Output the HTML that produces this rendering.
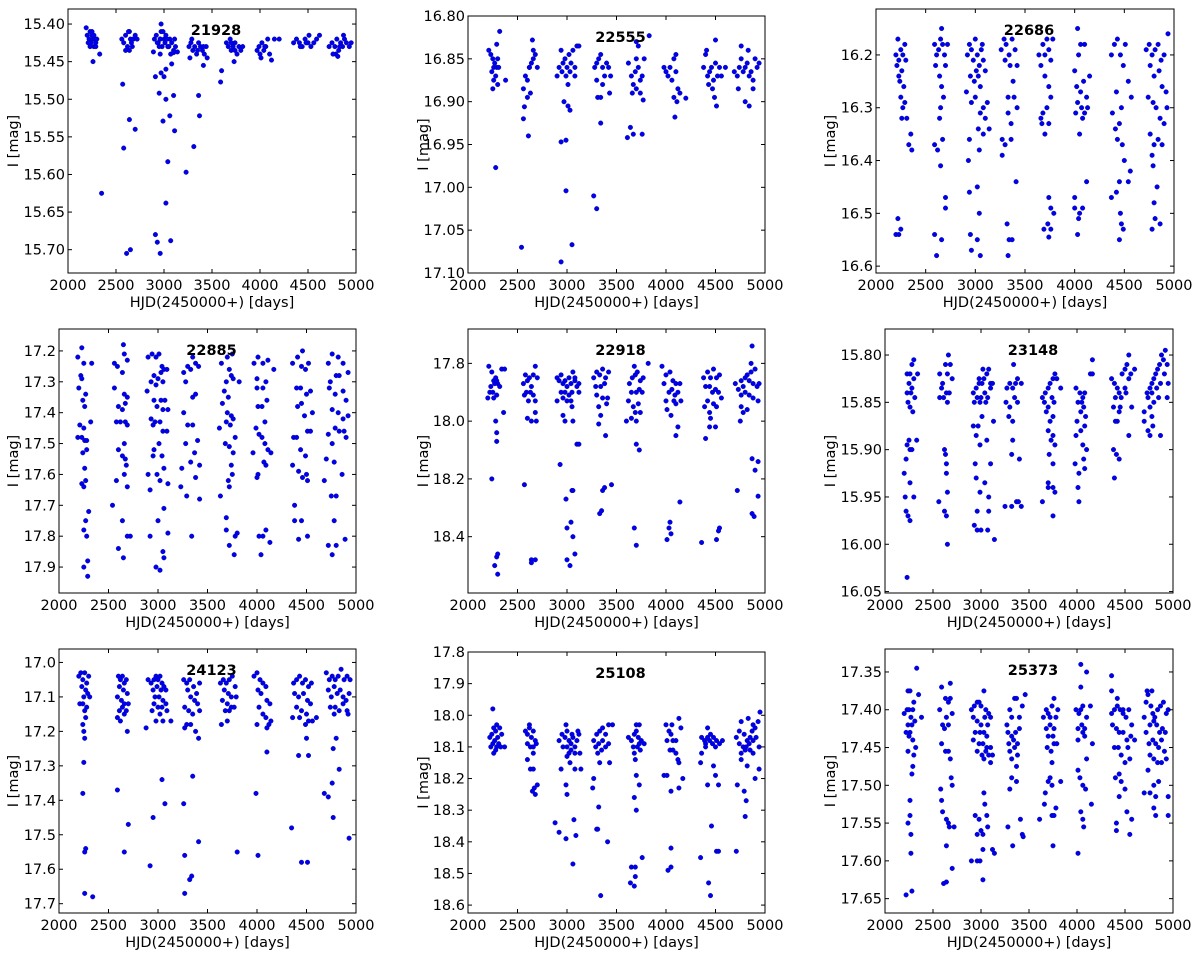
<!DOCTYPE html>
<html>
<head>
<meta charset="utf-8">
<style>
  html, body { margin: 0; padding: 0; background: #ffffff; }
  svg { display: block; }
  text { font-family: "DejaVu Sans", "Liberation Sans", sans-serif; fill: #000; }
</style>
</head>
<body>
<svg id="fig" width="1200" height="957" viewBox="0 0 1200 957" xmlns="http://www.w3.org/2000/svg"></svg>
<script>
// ---- data: [HJD-2450000, I mag] per star ----
const obs21928 = [[2190,15.405],[2200,15.415],[2220,15.42],[2230,15.41],[2240,15.425],[2250,15.415],[2260,15.42],[2270,15.43],[2280,15.42],[2290,15.425],[2300,15.42],[2230,15.43],[2250,15.41],[2270,15.415],[2210,15.425],[2290,15.43],[2260,15.45],[2330,15.44],[2350,15.625],
[2560,15.42],[2580,15.425],[2600,15.415],[2620,15.43],[2640,15.41],[2650,15.42],[2660,15.425],[2680,15.42],[2700,15.415],[2720,15.42],[2600,15.435],[2640,15.435],[2670,15.43],[2630,15.41],[2570,15.48],[2580,15.565],[2640,15.527],[2700,15.54],[2610,15.705],[2650,15.70],
[2900,15.42],[2920,15.415],[2940,15.425],[2960,15.42],[2970,15.41],[2980,15.43],[3000,15.42],[3010,15.425],[3020,15.415],[3040,15.43],[3060,15.42],[3080,15.425],[3100,15.435],[3120,15.43],[2950,15.43],[2990,15.41],[3030,15.42],[3070,15.44],[3110,15.42],[2930,15.425],[2960,15.42],[3050,15.43],[2970,15.40],[2890,15.437],[2960,15.44],[3100,15.438],[3140,15.437],[3080,15.453],[2970,15.465],[3000,15.47],[3020,15.46],[2910,15.47],[2950,15.492],[3020,15.50],[3100,15.495],[2990,15.529],[3060,15.522],[3110,15.542],[3040,15.583],[3020,15.638],[2910,15.68],[2930,15.69],[3070,15.688],[2960,15.705],
[3260,15.43],[3280,15.425],[3300,15.435],[3320,15.43],[3340,15.44],[3360,15.425],[3380,15.43],[3400,15.435],[3420,15.44],[3440,15.43],[3290,15.42],[3350,15.435],[3410,15.43],[3270,15.445],[3450,15.445],[3410,15.455],[3360,15.495],[3370,15.522],[3310,15.563],[3230,15.597],[3600,15.462],[3590,15.477],
[3650,15.425],[3670,15.43],[3690,15.42],[3700,15.435],[3720,15.43],[3740,15.425],[3760,15.44],[3780,15.43],[3800,15.435],[3820,15.43],[3700,15.425],[3740,15.435],[3730,15.45],
[3970,15.435],[3990,15.43],[4000,15.44],[4020,15.425],[4040,15.435],[4060,15.43],[4080,15.42],[4100,15.44],[4150,15.42],[4200,15.42],[4010,15.445],[4050,15.43],[4120,15.448],
[4350,15.425],[4380,15.42],[4410,15.425],[4440,15.43],[4470,15.42],[4500,15.425],[4530,15.43],[4560,15.425],[4590,15.42],[4620,15.415],[4420,15.43],[4480,15.425],[4510,15.415],
[4720,15.43],[4750,15.425],[4780,15.43],[4800,15.42],[4820,15.435],[4840,15.425],[4860,15.43],[4880,15.42],[4900,15.425],[4930,15.43],[4950,15.425],[4790,15.44],[4830,15.43],[4870,15.415],[4760,15.44],[4810,15.443]];

const obs22555 = [[2210,16.84],[2230,16.845],[2250,16.85],[2260,16.86],[2270,16.855],[2280,16.87],[2290,16.86],[2300,16.85],[2240,16.865],[2260,16.875],[2300,16.88],[2250,16.885],[2320,16.818],[2290,16.833],[2380,16.875],[2310,16.86],[2280,16.977],
[2560,16.885],[2580,16.87],[2600,16.875],[2620,16.86],[2640,16.855],[2660,16.85],[2680,16.845],[2650,16.828],[2620,16.86],[2700,16.86],[2660,16.84],[2600,16.895],[2570,16.906],[2560,16.92],[2610,16.94],[2630,16.89],[2540,17.07],
[2900,16.87],[2920,16.86],[2940,16.84],[2960,16.855],[2980,16.85],[3000,16.86],[3020,16.845],[3040,16.855],[3060,16.84],[3080,16.86],[3100,16.835],[3120,16.835],[2990,16.87],[3030,16.865],[2950,16.865],[3010,16.88],[2970,16.9],[3010,16.905],[3030,16.91],[2940,16.947],[2990,16.945],[2990,17.004],[3050,17.067],[2940,17.087],[3080,16.87],
[3280,16.86],[3300,16.855],[3320,16.85],[3340,16.845],[3360,16.86],[3380,16.87],[3400,16.855],[3420,16.86],[3440,16.87],[3300,16.875],[3360,16.88],[3310,16.895],[3340,16.895],[3430,16.89],[3340,16.925],[3270,17.01],[3300,17.025],
[3620,16.855],[3650,16.87],[3670,16.88],[3690,16.865],[3700,16.85],[3720,16.86],[3740,16.875],[3760,16.87],[3700,16.885],[3740,16.89],[3660,16.89],[3720,16.835],[3700,16.83],[3770,16.898],[3780,16.85],[3830,16.823],[3640,16.93],[3610,16.942],[3670,16.938],[3760,16.938],
[3980,16.86],[4000,16.865],[4020,16.87],[4040,16.86],[4060,16.875],[4080,16.85],[4100,16.865],[4120,16.885],[4140,16.89],[4080,16.895],[4110,16.9],[4100,16.845],[4200,16.896],[4090,16.918],
[4380,16.86],[4400,16.845],[4420,16.87],[4440,16.865],[4460,16.86],[4480,16.875],[4500,16.855],[4520,16.87],[4540,16.86],[4560,16.87],[4600,16.86],[4430,16.88],[4470,16.885],[4500,16.828],[4490,16.895],[4510,16.905],[4410,16.84],
[4690,16.865],[4720,16.87],[4740,16.86],[4760,16.85],[4780,16.865],[4800,16.86],[4820,16.855],[4840,16.87],[4860,16.865],[4880,16.875],[4900,16.85],[4920,16.86],[4940,16.855],[4760,16.835],[4830,16.84],[4800,16.9],[4840,16.905],[4880,16.885],[4730,16.885]];

const obs22686 = [[2200,16.2],[2210,16.22],[2220,16.17],[2230,16.21],[2240,16.25],[2250,16.19],[2260,16.23],[2270,16.2],[2280,16.26],[2290,16.18],[2230,16.24],[2250,16.28],[2270,16.3],[2290,16.29],[2310,16.32],[2260,16.32],[2300,16.21],[2330,16.37],[2350,16.35],[2360,16.38],[2220,16.51],[2200,16.54],[2230,16.54],[2250,16.53],
[2590,16.18],[2610,16.2],[2630,16.19],[2650,16.17],[2670,16.18],[2690,16.2],[2600,16.22],[2640,16.24],[2660,16.26],[2680,16.28],[2700,16.22],[2720,16.18],[2660,16.15],[2650,16.3],[2640,16.32],[2670,16.36],[2620,16.38],[2590,16.37],[2650,16.41],[2700,16.47],[2700,16.49],[2590,16.54],[2610,16.58],[2660,16.55],
[2920,16.2],[2940,16.18],[2960,16.19],[2980,16.21],[3000,16.17],[3020,16.2],[3040,16.22],[3060,16.19],[3080,16.21],[3100,16.23],[2950,16.24],[2990,16.25],[3010,16.23],[3030,16.24],[3070,16.18],[3050,16.26],[2910,16.27],[2960,16.29],[3000,16.28],[3050,16.31],[3080,16.3],[3100,16.32],[3120,16.29],[3030,16.34],[3080,16.35],[2940,16.36],[3040,16.38],[3140,16.34],[2930,16.40],[2940,16.46],[3020,16.45],[3040,16.5],[2950,16.54],[2960,16.57],[3020,16.55],[3050,16.58],
[3260,16.19],[3290,16.17],[3310,16.18],[3340,16.2],[3370,16.17],[3400,16.19],[3420,16.22],[3350,16.22],[3300,16.21],[3380,16.25],[3330,16.28],[3390,16.28],[3420,16.3],[3330,16.31],[3360,16.33],[3270,16.36],[3300,16.37],[3360,16.36],[3270,16.39],[3410,16.44],[3320,16.52],[3340,16.55],[3330,16.58],[3370,16.55],
[3640,16.2],[3660,16.22],[3680,16.18],[3700,16.2],[3720,16.17],[3740,16.19],[3760,16.21],[3780,16.17],[3700,16.24],[3740,16.26],[3760,16.28],[3720,16.3],[3680,16.31],[3670,16.33],[3700,16.35],[3740,16.33],[3660,16.32],[3740,16.47],[3760,16.49],[3730,16.52],[3760,16.53],[3740,16.545],[3690,16.53],[3790,16.5],
[4030,16.15],[4060,16.18],[4100,16.18],[4040,16.2],[4000,16.23],[4020,16.26],[4060,16.27],[4090,16.25],[4120,16.28],[4150,16.24],[4030,16.29],[4070,16.3],[4010,16.31],[4100,16.31],[4130,16.3],[4080,16.32],[4050,16.35],[4000,16.47],[4000,16.49],[4040,16.51],[4050,16.5],[4080,16.49],[4120,16.44],[4030,16.54],
[4370,16.2],[4400,16.18],[4430,16.17],[4460,16.2],[4490,16.22],[4510,16.18],[4540,16.25],[4570,16.28],[4420,16.27],[4470,16.3],[4380,16.31],[4410,16.34],[4450,16.33],[4430,16.36],[4480,16.37],[4500,16.4],[4560,16.42],[4540,16.44],[4450,16.44],[4420,16.46],[4460,16.5],[4470,16.52],[4450,16.55],[4490,16.53],[4370,16.47],
[4720,16.19],[4750,16.18],[4780,16.2],[4810,16.19],[4840,16.18],[4870,16.21],[4900,16.2],[4940,16.16],[4760,16.22],[4800,16.24],[4850,16.23],[4880,16.26],[4920,16.27],[4740,16.28],[4790,16.29],[4820,16.3],[4860,16.32],[4900,16.33],[4930,16.3],[4760,16.35],[4800,16.37],[4840,16.36],[4880,16.37],[4780,16.39],[4790,16.41],[4830,16.45],[4800,16.48],[4810,16.51],[4780,16.53],[4860,16.52]];

const obs22885 = [[2190,17.22],[2230,17.19],[2250,17.24],[2220,17.28],[2240,17.36],[2260,17.38],[2200,17.32],[2210,17.44],[2250,17.45],[2190,17.48],[2230,17.48],[2260,17.49],[2280,17.49],[2240,17.53],[2280,17.52],[2260,17.58],[2230,17.63],[2270,17.62],[2250,17.64],[2320,17.43],[2270,17.34],[2330,17.24],[2300,17.72],[2270,17.75],[2250,17.78],[2280,17.8],[2250,17.9],[2290,17.88],[2290,17.93],[2230,17.29],
[2560,17.24],[2590,17.25],[2650,17.18],[2660,17.21],[2690,17.23],[2640,17.27],[2560,17.32],[2660,17.34],[2690,17.35],[2600,17.38],[2640,17.39],[2670,17.37],[2580,17.43],[2620,17.43],[2670,17.43],[2690,17.44],[2600,17.52],[2660,17.5],[2640,17.54],[2670,17.55],[2680,17.57],[2580,17.62],[2660,17.6],[2690,17.64],[2540,17.7],[2640,17.75],[2690,17.8],[2720,17.8],[2600,17.84],[2650,17.87],
[2900,17.22],[2940,17.21],[2980,17.22],[3010,17.21],[3040,17.25],[3060,17.26],[3090,17.26],[2960,17.28],[3000,17.29],[3030,17.27],[2930,17.3],[2980,17.31],[3050,17.3],[2890,17.33],[2960,17.36],[3030,17.36],[3070,17.36],[2990,17.38],[3050,17.39],[3100,17.39],[2930,17.42],[2970,17.43],[3020,17.43],[2950,17.44],[3050,17.46],[3090,17.46],[3010,17.5],[2960,17.52],[3040,17.54],[2950,17.54],[3060,17.58],[2900,17.6],[2990,17.6],[3020,17.62],[3100,17.63],[2920,17.65],[3060,17.71],[3000,17.75],[2920,17.8],[3100,17.79],[3050,17.85],[3060,17.87],[2980,17.9],[3020,17.91],
[3260,17.27],[3300,17.25],[3350,17.22],[3380,17.24],[3410,17.25],[3330,17.26],[3280,17.3],[3380,17.34],[3350,17.35],[3260,17.4],[3300,17.44],[3350,17.44],[3280,17.5],[3400,17.49],[3370,17.53],[3330,17.56],[3240,17.58],[3420,17.57],[3380,17.61],[3230,17.64],[3290,17.67],[3420,17.68],[3340,17.8],
[3640,17.24],[3700,17.22],[3750,17.21],[3720,17.26],[3740,17.28],[3690,17.3],[3760,17.29],[3820,17.3],[3670,17.33],[3710,17.35],[3650,17.37],[3700,17.4],[3740,17.41],[3760,17.42],[3690,17.43],[3730,17.44],[3620,17.45],[3780,17.48],[3680,17.5],[3720,17.51],[3760,17.53],[3740,17.57],[3750,17.6],[3710,17.62],[3720,17.64],[3630,17.67],[3690,17.74],[3690,17.78],[3780,17.8],[3800,17.79],[3720,17.83],[3770,17.86],
[3970,17.24],[4010,17.22],[4060,17.24],[4110,17.23],[4170,17.26],[4000,17.29],[4090,17.3],[4060,17.32],[4000,17.32],[4100,17.36],[4010,17.38],[4050,17.38],[4080,17.43],[3990,17.45],[4020,17.47],[4050,17.48],[3960,17.53],[4080,17.5],[4110,17.52],[4140,17.53],[4070,17.56],[4090,17.57],[4010,17.6],[4000,17.61],[4020,17.8],[4060,17.8],[4090,17.78],[4040,17.86],[4130,17.82],
[4360,17.24],[4410,17.22],[4450,17.25],[4490,17.26],[4520,17.24],[4460,17.2],[4400,17.32],[4440,17.32],[4500,17.34],[4540,17.33],[4410,17.38],[4450,17.37],[4480,17.41],[4560,17.4],[4510,17.46],[4540,17.46],[4370,17.48],[4400,17.48],[4440,17.52],[4490,17.54],[4360,17.57],[4420,17.59],[4460,17.61],[4500,17.6],[4510,17.62],[4380,17.7],[4380,17.75],[4450,17.75],[4420,17.81],[4510,17.8],
[4720,17.24],[4760,17.21],[4820,17.22],[4870,17.24],[4920,17.27],[4800,17.28],[4740,17.3],[4830,17.28],[4730,17.32],[4790,17.34],[4870,17.33],[4900,17.36],[4760,17.39],[4820,17.4],[4870,17.42],[4920,17.41],[4790,17.45],[4830,17.46],[4880,17.46],[4720,17.47],[4760,17.5],[4900,17.48],[4700,17.55],[4780,17.56],[4860,17.6],[4680,17.62],[4750,17.67],[4800,17.67],[4780,17.75],[4890,17.81],[4720,17.83],[4800,17.83],[4760,17.86]];

const obs22918 = [[2210,17.81],[2240,17.83],[2260,17.86],[2280,17.85],[2300,17.87],[2230,17.88],[2270,17.87],[2220,17.9],[2250,17.9],[2290,17.91],[2320,17.88],[2340,17.82],[2370,17.82],[2200,17.92],[2260,17.92],[2290,17.86],[2360,17.97],[2280,18.0],[2290,18.04],[2290,18.07],[2240,18.2],[2290,18.47],[2300,18.46],[2270,18.5],[2300,18.53],
[2580,17.84],[2600,17.86],[2620,17.85],[2640,17.88],[2660,17.84],[2680,17.81],[2700,17.85],[2560,17.87],[2590,17.9],[2630,17.9],[2660,17.91],[2610,17.93],[2680,17.93],[2570,17.91],[2600,17.99],[2680,17.97],[2690,18.0],[2640,18.0],[2570,18.22],[2640,18.48],[2680,18.48],[2640,18.49],
[2900,17.85],[2920,17.86],[2940,17.84],[2960,17.87],[2980,17.86],[3000,17.88],[3020,17.85],[3040,17.87],[3060,17.83],[3080,17.86],[3100,17.88],[3120,17.87],[2940,17.9],[2980,17.9],[3020,17.91],[3050,17.9],[3000,17.93],[3040,17.93],[2900,17.93],[2960,17.92],[3080,17.85],[3120,17.9],[3050,17.95],[2960,17.98],[2980,18.0],[3060,18.0],[3100,18.08],[3120,18.08],[2930,18.15],[3050,18.24],[3060,18.24],[2990,18.27],[3040,18.35],[3000,18.37],[3060,18.4],[3000,18.48],[3030,18.5],[3080,18.46],
[3270,17.85],[3300,17.83],[3330,17.84],[3360,17.82],[3390,17.85],[3420,17.83],[3290,17.88],[3340,17.88],[3380,17.87],[3300,17.91],[3360,17.92],[3410,17.92],[3320,17.95],[3400,17.94],[3340,17.98],[3320,18.01],[3390,18.05],[3360,18.24],[3380,18.23],[3450,18.22],[3330,18.32],[3350,18.31],
[3630,17.87],[3660,17.85],[3690,17.84],[3710,17.83],[3740,17.86],[3770,17.85],[3820,17.8],[3680,17.81],[3650,17.9],[3700,17.9],[3730,17.89],[3760,17.9],[3620,17.93],[3670,17.95],[3720,17.94],[3740,17.97],[3690,17.97],[3650,17.99],[3600,18.0],[3700,18.0],[3700,18.08],[3730,18.1],[3680,18.37],[3700,18.43],
[3960,17.81],[4000,17.84],[4040,17.83],[4070,17.86],[4100,17.87],[3980,17.87],[4060,17.89],[4030,17.9],[4090,17.91],[4120,17.9],[4140,17.87],[4000,17.93],[4080,17.93],[4150,17.93],[4010,17.96],[4100,17.94],[4050,17.98],[4100,18.05],[4120,18.02],[4140,18.28],[4040,18.35],[4030,18.37],[4050,18.39],[4010,18.41],
[4380,17.85],[4420,17.83],[4450,17.85],[4480,17.82],[4510,17.85],[4540,17.84],[4400,17.88],[4440,17.88],[4470,17.9],[4500,17.89],[4530,17.9],[4560,17.92],[4420,17.93],[4480,17.94],[4510,17.95],[4390,17.95],[4440,17.97],[4450,17.99],[4440,18.02],[4500,18.02],[4400,18.06],[4540,18.37],[4530,18.38],[4510,18.41],[4360,18.42],
[4700,17.87],[4730,17.89],[4760,17.86],[4780,17.88],[4800,17.85],[4820,17.84],[4840,17.86],[4860,17.83],[4880,17.87],[4900,17.82],[4920,17.88],[4940,17.87],[4760,17.91],[4800,17.9],[4840,17.91],[4880,17.92],[4930,17.93],[4760,17.95],[4780,17.97],[4820,17.96],[4870,17.74],[4860,17.8],[4750,18.0],[4870,18.13],[4930,18.14],[4900,18.17],[4720,18.24],[4930,18.26],[4870,18.32],[4890,18.33]];

const obs23148 = [[2230,15.82],[2260,15.82],[2280,15.81],[2300,15.805],[2250,15.83],[2280,15.835],[2300,15.825],[2340,15.82],[2230,15.84],[2270,15.84],[2310,15.845],[2240,15.85],[2260,15.855],[2290,15.86],[2250,15.89],[2230,15.895],[2260,15.9],[2280,15.9],[2330,15.89],[2220,15.91],[2200,15.925],[2260,15.935],[2210,15.95],[2240,15.97],[2260,15.975],[2300,15.95],[2220,15.965],[2230,16.035],
[2570,15.82],[2600,15.83],[2630,15.81],[2660,15.8],[2680,15.81],[2650,15.82],[2700,15.825],[2590,15.835],[2640,15.84],[2670,15.84],[2610,15.845],[2570,15.845],[2650,15.85],[2620,15.9],[2630,15.905],[2640,15.915],[2640,15.925],[2650,15.945],[2560,15.955],[2620,15.965],[2640,15.97],[2650,16.0],
[2920,15.84],[2950,15.835],[2980,15.83],[3010,15.83],[3030,15.825],[3060,15.82],[3080,15.815],[3100,15.83],[3120,15.83],[2960,15.845],[3000,15.845],[3040,15.84],[3070,15.845],[3100,15.835],[2930,15.85],[2990,15.85],[3050,15.85],[2980,15.825],[3020,15.815],[2920,15.875],[3010,15.865],[2970,15.875],[3060,15.89],[3130,15.87],[2950,15.885],[2990,15.895],[2940,15.915],[3100,15.915],[2950,15.93],[3040,15.935],[2990,15.945],[3080,15.95],[2960,15.965],[3080,15.965],[2930,15.98],[2960,15.985],[3000,15.985],[3070,15.985],[3140,15.995],
[3270,15.835],[3300,15.83],[3330,15.835],[3360,15.83],[3340,15.81],[3380,15.825],[3420,15.83],[3260,15.85],[3300,15.855],[3350,15.845],[3380,15.85],[3290,15.865],[3330,15.87],[3330,15.89],[3320,15.905],[3400,15.91],[3250,15.96],[3320,15.96],[3370,15.955],[3390,15.955],[3420,15.96],
[3640,15.845],[3670,15.84],[3700,15.835],[3720,15.83],[3750,15.825],[3770,15.82],[3790,15.825],[3830,15.835],[3660,15.85],[3700,15.855],[3740,15.845],[3760,15.85],[3680,15.86],[3720,15.87],[3750,15.865],[3700,15.88],[3730,15.89],[3750,15.885],[3770,15.895],[3710,15.905],[3750,15.915],[3700,15.935],[3700,15.94],[3750,15.94],[3770,15.945],[3640,15.955],[3750,15.97],
[3990,15.835],[4030,15.84],[4060,15.845],[4080,15.84],[4010,15.85],[4050,15.85],[4070,15.855],[4040,15.86],[4090,15.865],[4000,15.87],[4040,15.88],[4080,15.875],[3990,15.885],[4060,15.895],[4100,15.9],[4070,15.91],[3980,15.915],[4020,15.925],[4010,15.94],[4080,15.92],[4020,15.955],[4140,15.82],[4160,15.82],[4160,15.805],
[4360,15.825],[4390,15.83],[4420,15.835],[4440,15.84],[4470,15.82],[4500,15.815],[4520,15.81],[4540,15.8],[4560,15.82],[4600,15.815],[4400,15.845],[4460,15.845],[4500,15.835],[4540,15.825],[4380,15.855],[4450,15.855],[4510,15.84],[4420,15.87],[4440,15.86],[4570,15.855],[4400,15.87],[4380,15.9],[4410,15.905],[4440,15.91],[4390,15.93],[4540,15.885],
[4700,15.86],[4730,15.84],[4760,15.835],[4780,15.83],[4800,15.825],[4820,15.82],[4840,15.815],[4860,15.81],[4880,15.8],[4900,15.805],[4920,15.795],[4940,15.81],[4950,15.83],[4740,15.845],[4780,15.84],[4830,15.835],[4870,15.83],[4910,15.82],[4800,15.85],[4760,15.855],[4850,15.845],[4940,15.845],[4700,15.87],[4780,15.865],[4740,15.88],[4790,15.875],[4760,15.885],[4870,15.885]];

const obs24123 = [[2200,17.04],[2220,17.03],[2240,17.05],[2260,17.03],[2280,17.06],[2300,17.04],[2230,17.07],[2270,17.08],[2290,17.09],[2250,17.1],[2310,17.1],[2210,17.12],[2240,17.12],[2260,17.14],[2280,17.13],[2270,17.16],[2240,17.18],[2250,17.2],[2260,17.22],[2250,17.29],[2240,17.38],[2270,17.54],[2260,17.55],[2260,17.67],[2340,17.68],
[2600,17.04],[2620,17.05],[2640,17.04],[2660,17.06],[2680,17.05],[2610,17.07],[2650,17.08],[2690,17.09],[2590,17.1],[2630,17.11],[2660,17.12],[2700,17.12],[2610,17.14],[2640,17.13],[2680,17.14],[2590,17.16],[2620,17.17],[2660,17.15],[2690,17.2],[2590,17.37],[2700,17.47],[2660,17.55],
[2900,17.05],[2930,17.06],[2960,17.05],[2980,17.04],[3000,17.05],[3020,17.04],[3040,17.06],[3060,17.07],[3080,17.08],[2950,17.08],[2990,17.07],[3030,17.08],[3010,17.1],[2970,17.1],[3050,17.11],[3080,17.12],[2960,17.12],[3000,17.13],[3040,17.13],[2940,17.14],[3090,17.14],[3020,17.15],[2980,17.17],[3050,17.17],[3130,17.17],[2880,17.19],[3040,17.34],[3070,17.41],[2950,17.45],[2920,17.59],
[3260,17.05],[3290,17.06],[3320,17.05],[3360,17.07],[3390,17.09],[3420,17.06],[3300,17.08],[3330,17.1],[3370,17.11],[3400,17.12],[3270,17.13],[3310,17.14],[3350,17.15],[3420,17.14],[3290,17.18],[3330,17.18],[3380,17.2],[3270,17.19],[3410,17.22],[3350,17.33],[3260,17.41],[3410,17.52],[3270,17.56],[3340,17.62],[3320,17.63],[3270,17.67],
[3630,17.06],[3660,17.05],[3690,17.06],[3720,17.05],[3750,17.04],[3780,17.07],[3670,17.08],[3710,17.09],[3740,17.1],[3790,17.1],[3650,17.11],[3700,17.12],[3740,17.13],[3680,17.14],[3720,17.14],[3770,17.13],[3700,17.17],[3640,17.18],[3800,17.55],
[3970,17.04],[4000,17.03],[4030,17.05],[4060,17.06],[4090,17.07],[4010,17.08],[4040,17.09],[4100,17.11],[4130,17.12],[4020,17.13],[4060,17.15],[4090,17.16],[4120,17.18],[4000,17.18],[4140,17.17],[4100,17.19],[4100,17.26],[3990,17.38],[4010,17.56],
[4370,17.06],[4400,17.05],[4430,17.04],[4460,17.06],[4490,17.05],[4520,17.07],[4550,17.06],[4380,17.09],[4420,17.1],[4470,17.09],[4510,17.11],[4540,17.12],[4400,17.13],[4450,17.14],[4500,17.15],[4360,17.16],[4430,17.16],[4490,17.18],[4560,17.17],[4600,17.16],[4520,17.17],[4500,17.22],[4420,17.27],[4520,17.27],[4350,17.48],[4450,17.58],[4510,17.58],
[4700,17.03],[4730,17.05],[4760,17.04],[4790,17.05],[4820,17.04],[4850,17.02],[4880,17.05],[4910,17.04],[4940,17.05],[4720,17.08],[4750,17.1],[4780,17.07],[4810,17.09],[4840,17.08],[4870,17.1],[4900,17.11],[4930,17.09],[4740,17.13],[4790,17.13],[4830,17.14],[4870,17.12],[4910,17.14],[4780,17.15],[4920,17.15],[4800,17.22],[4770,17.25],[4830,17.31],[4760,17.35],[4680,17.38],[4720,17.39],[4770,17.45],[4930,17.51]];

const obs25108 = [[2220,18.07],[2240,18.06],[2260,18.04],[2280,18.05],[2300,18.07],[2320,18.04],[2340,18.06],[2250,18.09],[2270,18.08],[2290,18.1],[2310,18.09],[2230,18.1],[2280,18.11],[2330,18.1],[2260,18.12],[2370,18.1],[2250,17.98],[2290,18.03],
[2580,18.05],[2600,18.06],[2620,18.04],[2640,18.07],[2660,18.05],[2680,18.08],[2600,18.09],[2630,18.1],[2660,18.1],[2690,18.09],[2620,18.03],[2660,18.12],[2600,18.14],[2630,18.17],[2660,18.17],[2670,18.23],[2680,18.25],[2700,18.22],[2650,18.24],
[2920,18.08],[2950,18.06],[2980,18.07],[3000,18.05],[3020,18.08],[3040,18.09],[3060,18.07],[3080,18.1],[3100,18.08],[3120,18.06],[2960,18.1],[3000,18.1],[3040,18.11],[3080,18.12],[2990,18.03],[3020,18.12],[3000,18.13],[3050,18.06],[3110,18.05],[3130,18.12],[2940,18.17],[3030,18.15],[3080,18.17],[3140,18.17],[2990,18.22],[3000,18.25],[2880,18.34],[2920,18.37],[3070,18.33],[3090,18.38],[2990,18.39],[3060,18.47],
[3270,18.08],[3300,18.06],[3330,18.05],[3360,18.04],[3390,18.06],[3420,18.03],[3460,18.03],[3290,18.1],[3320,18.09],[3360,18.08],[3390,18.1],[3310,18.12],[3350,18.11],[3420,18.09],[3330,18.15],[3430,18.15],[3270,18.2],[3260,18.23],[3320,18.29],[3300,18.36],[3310,18.36],[3410,18.4],[3340,18.57],
[3620,18.07],[3650,18.08],[3680,18.06],[3700,18.05],[3720,18.07],[3750,18.08],[3780,18.09],[3670,18.1],[3710,18.1],[3740,18.11],[3680,18.12],[3730,18.09],[3700,18.03],[3730,18.03],[3690,18.14],[3700,18.19],[3730,18.22],[3680,18.26],[3700,18.3],[3760,18.45],[3650,18.48],[3690,18.48],[3690,18.51],[3640,18.53],[3680,18.54],
[4000,18.03],[4030,18.05],[4050,18.06],[4070,18.08],[4100,18.08],[4010,18.08],[4040,18.11],[4070,18.11],[4100,18.12],[4120,18.14],[4130,18.15],[4060,18.03],[4130,18.01],[4150,18.04],[3980,18.19],[4010,18.19],[4170,18.2],[4050,18.24],[4130,18.23],[4050,18.42],[4050,18.48],[4020,18.49],
[4360,18.07],[4390,18.08],[4420,18.07],[4450,18.06],[4480,18.07],[4510,18.08],[4540,18.09],[4570,18.08],[4400,18.09],[4440,18.08],[4470,18.09],[4500,18.1],[4420,18.04],[4360,18.12],[4400,18.1],[4350,18.15],[4480,18.16],[4500,18.19],[4420,18.22],[4530,18.22],[4460,18.35],[4510,18.43],[4530,18.43],[4350,18.45],[4430,18.53],[4450,18.57],
[4710,18.07],[4740,18.05],[4760,18.02],[4790,18.06],[4820,18.08],[4850,18.07],[4870,18.05],[4900,18.04],[4930,18.02],[4950,17.99],[4740,18.09],[4780,18.1],[4810,18.1],[4840,18.09],[4880,18.08],[4910,18.07],[4760,18.12],[4800,18.11],[4850,18.11],[4880,18.12],[4940,18.1],[4830,18.01],[4880,18.03],[4760,18.14],[4820,18.16],[4940,18.17],[4900,18.2],[4720,18.22],[4790,18.24],[4810,18.27],[4800,18.32],[4710,18.43]];

const obs25373 = [[2200,17.405],[2230,17.4],[2250,17.4],[2270,17.41],[2290,17.4],[2300,17.39],[2240,17.42],[2260,17.43],[2280,17.42],[2310,17.415],[2220,17.43],[2250,17.435],[2290,17.44],[2240,17.375],[2260,17.375],[2330,17.345],[2350,17.38],[2380,17.41],[2320,17.45],[2240,17.455],[2300,17.46],[2290,17.475],[2280,17.485],[2260,17.52],[2260,17.54],[2240,17.55],[2270,17.565],[2270,17.59],[2280,17.64],[2220,17.645],
[2570,17.4],[2600,17.42],[2640,17.41],[2660,17.39],[2680,17.385],[2700,17.405],[2630,17.385],[2660,17.42],[2590,17.37],[2680,17.365],[2620,17.425],[2590,17.445],[2630,17.455],[2660,17.455],[2680,17.465],[2690,17.49],[2700,17.5],[2580,17.505],[2590,17.52],[2600,17.535],[2640,17.545],[2660,17.55],[2670,17.555],[2640,17.58],[2720,17.555],[2700,17.61],[2610,17.63],[2640,17.628],
[2900,17.4],[2930,17.395],[2960,17.39],[2980,17.39],[3000,17.395],[3030,17.375],[3050,17.4],[3080,17.405],[2920,17.41],[2960,17.415],[3000,17.42],[3040,17.41],[3070,17.42],[3100,17.41],[2940,17.43],[2990,17.43],[3030,17.43],[3060,17.435],[2920,17.44],[2980,17.445],[3020,17.445],[3060,17.45],[3100,17.45],[2960,17.455],[3010,17.46],[3050,17.455],[3080,17.46],[3120,17.46],[3030,17.465],[3100,17.47],[3030,17.51],[3040,17.525],[2940,17.54],[3060,17.54],[2980,17.545],[3070,17.555],[2960,17.565],[3000,17.56],[3020,17.565],[3020,17.585],[3120,17.585],[3140,17.59],[2900,17.6],[2960,17.6],[2990,17.6],[3020,17.625],
[3270,17.42],[3300,17.4],[3320,17.41],[3350,17.385],[3370,17.385],[3400,17.41],[3430,17.395],[3460,17.38],[3280,17.43],[3320,17.435],[3360,17.43],[3400,17.425],[3290,17.445],[3340,17.44],[3380,17.445],[3300,17.455],[3350,17.45],[3380,17.46],[3320,17.465],[3370,17.475],[3320,17.49],[3300,17.505],[3370,17.495],[3280,17.555],[3410,17.545],[3430,17.565],[3330,17.58],[3440,17.568],
[3650,17.41],[3680,17.4],[3700,17.405],[3720,17.41],[3740,17.395],[3760,17.385],[3780,17.41],[3800,17.4],[3680,17.425],[3720,17.42],[3760,17.425],[3700,17.435],[3750,17.435],[3690,17.45],[3730,17.455],[3760,17.445],[3790,17.445],[3740,17.47],[3720,17.49],[3700,17.495],[3740,17.5],[3830,17.495],[3670,17.51],[3660,17.525],[3780,17.53],[3740,17.54],[3760,17.54],[3610,17.545],[3750,17.58],
[3990,17.4],[4020,17.405],[4040,17.4],[4060,17.395],[4100,17.41],[4140,17.395],[4040,17.37],[4100,17.35],[4040,17.34],[4010,17.425],[4050,17.42],[4080,17.425],[4010,17.44],[4060,17.43],[4080,17.435],[4160,17.445],[4100,17.465],[4010,17.48],[4030,17.49],[4060,17.5],[4090,17.505],[4150,17.525],[4040,17.535],[4060,17.545],[4070,17.555],[4010,17.59],
[4360,17.405],[4390,17.4],[4420,17.395],[4450,17.4],[4480,17.405],[4510,17.41],[4540,17.4],[4570,17.42],[4600,17.44],[4370,17.42],[4410,17.425],[4440,17.43],[4480,17.43],[4520,17.44],[4560,17.435],[4360,17.355],[4360,17.375],[4420,17.385],[4480,17.4],[4390,17.45],[4430,17.45],[4460,17.46],[4500,17.47],[4550,17.465],[4530,17.45],[4400,17.49],[4460,17.495],[4500,17.505],[4440,17.515],[4520,17.535],[4570,17.545],[4410,17.55],[4410,17.56],[4550,17.565],[4440,17.485],
[4700,17.41],[4720,17.39],[4740,17.38],[4770,17.395],[4790,17.405],[4810,17.41],[4840,17.4],[4870,17.395],[4900,17.39],[4930,17.405],[4950,17.4],[4720,17.43],[4760,17.42],[4800,17.415],[4830,17.42],[4860,17.43],[4890,17.425],[4920,17.43],[4750,17.445],[4790,17.44],[4820,17.445],[4850,17.45],[4880,17.44],[4910,17.455],[4760,17.46],[4800,17.465],[4840,17.47],[4880,17.47],[4930,17.465],[4740,17.48],[4800,17.5],[4850,17.495],[4700,17.51],[4760,17.51],[4820,17.515],[4950,17.515],[4800,17.53],[4820,17.54],[4950,17.54],[4730,17.375],[4780,17.375]];

const xTicks = [2000, 2500, 3000, 3500, 4000, 4500, 5000];
const starIds = ["21928","22555","22686","22885","22918","23148","24123","25108","25373"];
const yTicks21928 = [15.40,15.45,15.50,15.55,15.60,15.65,15.70];
const yTicks22555 = [16.80,16.85,16.90,16.95,17.00,17.05,17.10];
const yTicks22686 = [16.2,16.3,16.4,16.5,16.6];
const yTicks22885 = [17.2,17.3,17.4,17.5,17.6,17.7,17.8,17.9];
const yTicks22918 = [17.8,18.0,18.2,18.4];
const yTicks23148 = [15.80,15.85,15.90,15.95,16.00,16.05];
const yTicks24123 = [17.0,17.1,17.2,17.3,17.4,17.5,17.6,17.7];
const yTicks25108 = [17.8,17.9,18.0,18.1,18.2,18.3,18.4,18.5,18.6];
const yTicks25373 = [17.35,17.40,17.45,17.50,17.55,17.60,17.65];

// ---- layout (pixel boxes and axis limits) ----
const panels = [
  {id:"21928", obs:obs21928, yt:yTicks21928, dec:2, L:68,  R:356,  T:9,   B:273, y0:15.380, y1:15.731, lx:18},
  {id:"22555", obs:obs22555, yt:yTicks22555, dec:2, L:468, R:765,  T:16,  B:273, y0:16.800, y1:17.100, lx:428},
  {id:"22686", obs:obs22686, yt:yTicks22686, dec:1, L:876, R:1174, T:9,   B:273, y0:16.113, y1:16.613, lx:835},
  {id:"22885", obs:obs22885, yt:yTicks22885, dec:1, L:59,  R:356,  T:329, B:593, y0:17.129, y1:17.984, lx:18},
  {id:"22918", obs:obs22918, yt:yTicks22918, dec:1, L:468, R:765,  T:329, B:593, y0:17.681, y1:18.595, lx:428},
  {id:"23148", obs:obs23148, yt:yTicks23148, dec:2, L:885, R:1173, T:329, B:593, y0:15.7725,y1:16.0515,lx:835},
  {id:"24123", obs:obs24123, yt:yTicks24123, dec:1, L:59,  R:356,  T:649, B:913, y0:16.961, y1:17.727, lx:18},
  {id:"25108", obs:obs25108, yt:yTicks25108, dec:1, L:468, R:765,  T:652, B:913, y0:17.800, y1:18.625, lx:428},
  {id:"25373", obs:obs25373, yt:yTicks25373, dec:2, L:885, R:1173, T:649, B:913, y0:17.3196,y1:17.669, lx:835}
];

const NS = "http://www.w3.org/2000/svg";
const fig = document.getElementById("fig");
function mk(tag, attrs, parent) {
  const e = document.createElementNS(NS, tag);
  for (const k in attrs) e.setAttribute(k, attrs[k]);
  parent.appendChild(e);
  return e;
}

panels.forEach(function(p) {
  const xS = function(v) { return p.L + (v - 2000) / 3000 * (p.R - p.L); };
  const yS = function(v) { return p.T + (v - p.y0) / (p.y1 - p.y0) * (p.B - p.T); };
  const g = mk("g", {}, fig);
  
  

  const frame = mk("rect", {x:p.L, y:p.T, width:p.R-p.L, height:p.B-p.T, fill:"#fff", stroke:"#000", "stroke-width":1}, g);
  
  

  // points
  const pts = mk("g", {fill:"#0000f0", stroke:"#00008b", "stroke-width":0.4}, g);
  
  
  p.obs.forEach(function(o) {
    const c = mk("circle", {cx:xS(o[0]).toFixed(1), cy:yS(o[1]).toFixed(1), r:2.3}, pts);
    
    
  });

  // x ticks
  const xa = mk("g", {}, g);
  
  
  xTicks.forEach(function(t) {
    const x = xS(t);
    mk("line", {x1:x, x2:x, y1:p.B, y2:p.B-4, stroke:"#000", "stroke-width":1}, xa);
    mk("line", {x1:x, x2:x, y1:p.T, y2:p.T+4, stroke:"#000", "stroke-width":1}, xa);
    const tl = mk("text", {x:x, y:p.B+17, "text-anchor":"middle", "font-size":"14.5px"}, xa);
    tl.textContent = String(t);
    
    
  });
  const xl = mk("text", {x:(p.L+p.R)/2, y:p.B+34, "text-anchor":"middle", "font-size":"14.5px"}, xa);
  xl.textContent = "HJD(2450000+) [days]";
  
  

  // y ticks
  const ya = mk("g", {}, g);
  
  
  p.yt.forEach(function(t) {
    const y = yS(t);
    mk("line", {x1:p.L, x2:p.L+4, y1:y, y2:y, stroke:"#000", "stroke-width":1}, ya);
    mk("line", {x1:p.R, x2:p.R-4, y1:y, y2:y, stroke:"#000", "stroke-width":1}, ya);
    const tl = mk("text", {x:p.L-3, y:y+5, "text-anchor":"end", "font-size":"14.5px"}, ya);
    tl.textContent = t.toFixed(p.dec);
    
    
  });
  const cy = (p.T + p.B) / 2;
  const yl = mk("text", {x:p.lx, y:cy, "text-anchor":"middle", "font-size":"14.5px", transform:"rotate(-90 " + p.lx + " " + cy + ")"}, ya);
  yl.textContent = "I [mag]";
  
  

  // title
  const tt = mk("text", {x:(p.L+p.R)/2 + 4, y:p.T+26, "text-anchor":"middle", "font-size":"14.5px", "font-weight":"bold"}, g);
  tt.textContent = p.id;
  
  
});
</script>
</body>
</html>
